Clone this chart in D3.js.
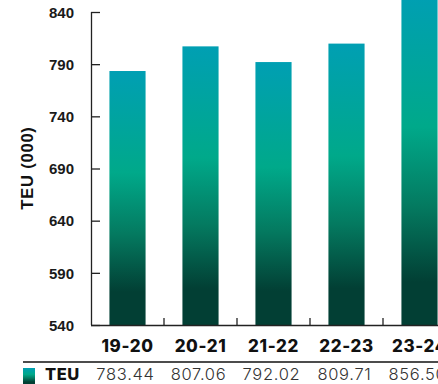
<!DOCTYPE html>
<html>
<head>
<meta charset="utf-8">
<script src="https://cdn.jsdelivr.net/npm/d3@7"></script>
<style>
  html, body { margin: 0; padding: 0; background: #fff; }
  svg { display: block; }
</style>
</head>
<body>
<div id="chart"></div>
<script>
// Annual container throughput, thousands of TEU
const categories = ["19-20", "20-21", "21-22", "22-23", "23-24"];
const teuValues = [783.44, 807.06, 792.02, 809.71, 856.5];
const yTicks = [540, 590, 640, 690, 740, 790, 840];
const seriesName = "TEU";
const axisTitle = "TEU (000)";

const W = 438, H = 384;
const svg = d3.select("#chart").append("svg")
  .attr("width", W).attr("height", H);

// Vertical fill shared by every bar and the legend swatch
const defs = svg.append("defs");
const grad = defs.append("linearGradient")
  .attr("id", "barFill")
  .attr("x1", 0).attr("y1", 0).attr("x2", 0).attr("y2", 1);
[
  [0, "#009fb3"],
  [0.4, "#00a98a"],
  [0.64, "#047a60"],
  [0.87, "#023f34"],
  [1, "#023f34"]
].forEach(([o, c]) => grad.append("stop").attr("offset", o).attr("stop-color", c));

const plotLeft = 91, plotBottom = 325, plotTop = 12;
const x = d3.scaleBand().domain(categories).range([plotLeft, plotLeft + 73 * categories.length])
  .paddingInner(0.505).paddingOuter(0.2525);
const y = d3.scaleLinear().domain([540, 840]).range([plotBottom, plotTop]);

// Bars
svg.append("g").selectAll("rect")
  .data(categories.map((c, i) => ({ c, v: teuValues[i] })))
  .join("rect")
  .attr("x", d => x(d.c))
  .attr("width", x.bandwidth())
  .attr("y", d => y(d.v))
  .attr("height", d => plotBottom - y(d.v))
  .attr("fill", "url(#barFill)");

// Y axis with inward ticks
const yAxis = svg.append("g")
  .attr("transform", `translate(${plotLeft},0)`)
  .call(d3.axisRight(y).tickValues(yTicks).tickSize(9).tickSizeOuter(0).tickFormat(d3.format("d")));
yAxis.select(".domain").attr("stroke", "#222").attr("stroke-width", 1.3)
  .attr("d", `M0.5,${plotTop}V${plotBottom}`);
yAxis.selectAll(".tick line").attr("stroke", "#222").attr("stroke-width", 1.3);
yAxis.selectAll(".tick text")
  .attr("x", -17).attr("text-anchor", "end").attr("dy", "0.35em")
  .attr("font-family", "'Liberation Sans', Arial, sans-serif")
  .attr("font-weight", 700).attr("font-size", 15).attr("fill", "#1a1a1a");

// X axis: baseline with short upward ticks at band boundaries
const xAxisG = svg.append("g");
xAxisG.append("line")
  .attr("x1", plotLeft).attr("x2", W).attr("y1", plotBottom + 0.5).attr("y2", plotBottom + 0.5)
  .attr("stroke", "#222").attr("stroke-width", 1.3);
const step = x.step();
xAxisG.selectAll("line.sep")
  .data(categories.slice(1))
  .join("line")
  .attr("class", "sep")
  .attr("x1", d => x(d) - x.paddingInner() * step / 2)
  .attr("x2", d => x(d) - x.paddingInner() * step / 2)
  .attr("y1", plotBottom).attr("y2", plotBottom - 7)
  .attr("stroke", "#222").attr("stroke-width", 1.3);

xAxisG.selectAll("text")
  .data(categories)
  .join("text")
  .attr("x", d => x(d) + x.bandwidth() / 2)
  .attr("y", 352)
  .attr("text-anchor", "middle")
  .attr("font-family", "Inter, 'Open Sans', sans-serif")
  .attr("font-weight", 800).attr("font-size", 17).attr("fill", "#111")
  .attr("letter-spacing", 0.6)
  .text(d => d);

// Axis title
svg.append("text")
  .attr("transform", "translate(33,168) rotate(-90)")
  .attr("text-anchor", "middle")
  .attr("font-family", "'Liberation Sans', Arial, sans-serif")
  .attr("font-weight", 700).attr("font-size", 16.5).attr("fill", "#111")
  .attr("letter-spacing", 0.8)
  .text(axisTitle);

// Data table beneath the chart
svg.append("line")
  .attr("x1", 23).attr("x2", W).attr("y1", 362).attr("y2", 362)
  .attr("stroke", "#111").attr("stroke-width", 1.5);
svg.append("rect")
  .attr("x", 23).attr("y", 368).attr("width", 12).attr("height", 16)
  .attr("fill", "url(#barFill)");
svg.append("text")
  .attr("x", 45).attr("y", 380)
  .attr("font-family", "Inter, 'Open Sans', sans-serif")
  .attr("font-weight", 800).attr("font-size", 16.5).attr("fill", "#111")
  .attr("letter-spacing", 0.5)
  .text(seriesName);
svg.append("g").selectAll("text")
  .data(categories.map((c, i) => ({ c, v: teuValues[i] })))
  .join("text")
  .attr("x", d => x(d.c) + x.bandwidth() / 2 - 2)
  .attr("y", 380)
  .attr("text-anchor", "middle")
  .attr("font-family", "Inter, 'Open Sans', sans-serif")
  .attr("font-weight", 300).attr("font-size", 16.5).attr("fill", "#333")
  .attr("letter-spacing", 0.7)
  .text(d => d3.format(".2f")(d.v));
</script>
</body>
</html>
